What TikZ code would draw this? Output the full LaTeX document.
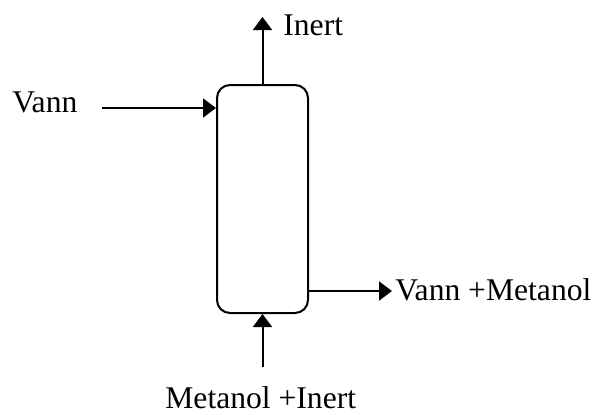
\documentclass[tikz,border=0pt]{standalone}
\usepackage{fontspec}
\setmainfont{Liberation Serif}
\usetikzlibrary{arrows.meta}
\tikzset{
    flow/.style={line width=1pt,-{Triangle[length=6.5pt,width=9.5pt]}},
    column/.style={draw,line width=1pt,rounded corners=6.5pt,minimum width=45.5pt,minimum height=114pt,inner sep=0pt},
    stream/.style={anchor=base west,inner sep=0pt,font=\fontsize{15.8pt}{18pt}\selectfont}
}
\begin{document}
\begin{tikzpicture}[x=0.5pt,y=-0.5pt]
            \useasboundingbox (0,0) rectangle (599,414);
            \node[column] (col) at (262.5,199) {};
            \coordinate (vannin) at (102,108);
            \coordinate (inertout) at (262.5,17);
            \coordinate (prodout) at (392,291);
            \coordinate (feedin) at (262.5,367);
            \draw[flow] (vannin) -- (col.west |- vannin);
            \draw[flow] (col.north) -- (inertout);
            \draw[flow] (col.east |- prodout) -- (prodout);
            \draw[flow] (feedin) -- (col.south);
            \node[stream] (vann) at (12,112) {Vann};
            \node[stream] (inert) at (283,35) {Inert};
            \node[stream] (prod) at (395,300) {Vann +Metanol};
            \node[stream] (feed) at (165,408) {Metanol +Inert};
        \end{tikzpicture}
\end{document}
